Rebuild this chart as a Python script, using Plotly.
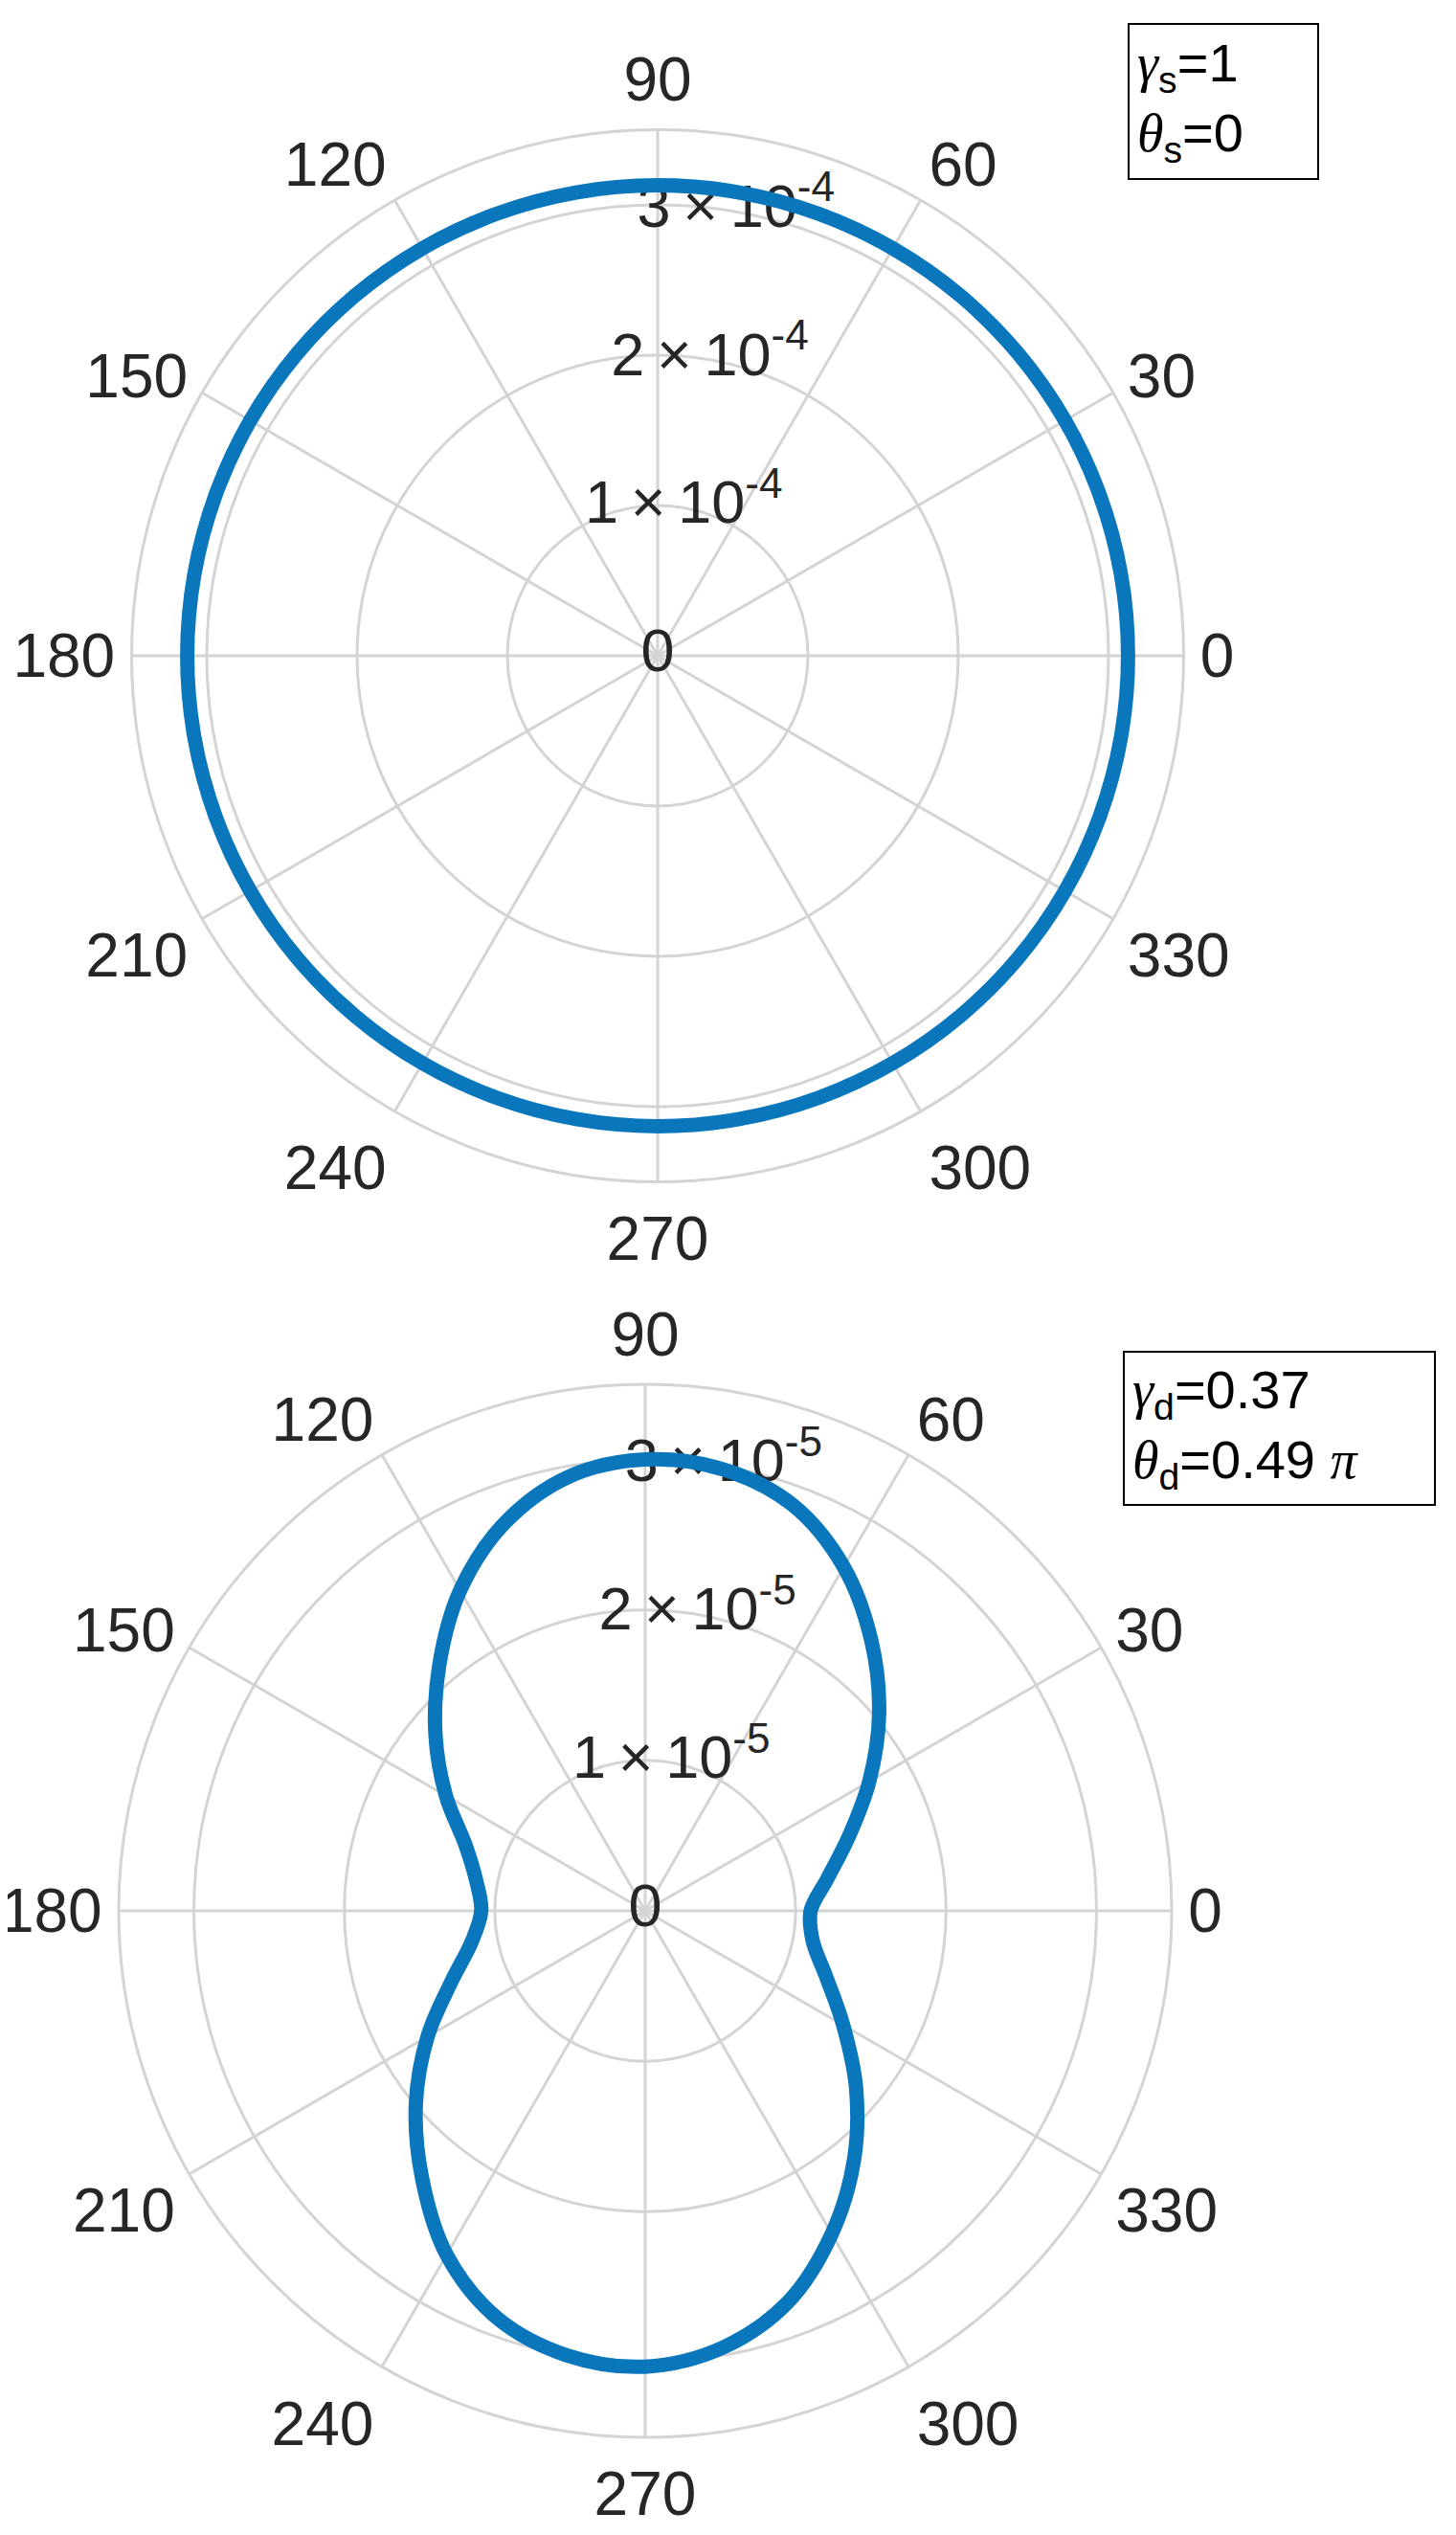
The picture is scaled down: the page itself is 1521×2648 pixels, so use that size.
import plotly.graph_objects as go

# upper pattern (gamma_s = 1, theta_s = 0): radius every 10 deg
theta_s = [0, 10, 20, 30, 40, 50, 60, 70, 80, 90, 100, 110, 120, 130, 140, 150, 160, 170, 180,
           190, 200, 210, 220, 230, 240, 250, 260, 270, 280, 290, 300, 310, 320, 330, 340, 350, 360]
r_s = [3.13e-4, 3.13e-4, 3.13e-4, 3.13e-4, 3.13e-4, 3.13e-4, 3.13e-4, 3.13e-4, 3.13e-4, 3.13e-4,
       3.13e-4, 3.13e-4, 3.13e-4, 3.13e-4, 3.13e-4, 3.13e-4, 3.13e-4, 3.13e-4, 3.13e-4, 3.13e-4,
       3.13e-4, 3.13e-4, 3.13e-4, 3.13e-4, 3.13e-4, 3.13e-4, 3.13e-4, 3.13e-4, 3.13e-4, 3.13e-4,
       3.13e-4, 3.13e-4, 3.13e-4, 3.13e-4, 3.13e-4, 3.13e-4, 3.13e-4]

# lower pattern (gamma_d = 0.37, theta_d = 0.49 pi), every 10 deg
theta_d = [0, 10, 20, 30, 40, 50, 60, 70, 80, 90, 100, 110, 120, 130, 140, 150, 160, 170, 180,
           190, 200, 210, 220, 230, 240, 250, 260, 270, 280, 290, 300, 310, 320, 330, 340, 350, 360]
r_d = [1.10e-5, 1.23e-5, 1.44e-5, 1.72e-5, 2.03e-5, 2.34e-5, 2.64e-5, 2.87e-5, 2.98e-5, 3.00e-5,
       2.93e-5, 2.74e-5, 2.46e-5, 2.13e-5, 1.82e-5, 1.53e-5, 1.27e-5, 1.14e-5, 1.09e-5,
       1.17e-5, 1.37e-5, 1.67e-5, 1.99e-5, 2.31e-5, 2.64e-5, 2.88e-5, 3.00e-5, 3.03e-5,
       2.95e-5, 2.77e-5, 2.48e-5, 2.16e-5, 1.83e-5, 1.52e-5, 1.28e-5, 1.13e-5, 1.10e-5]

# axis ticks
angle_ticks = [0, 30, 60, 90, 120, 150, 180, 210, 240, 270, 300, 330]
angle_labels = ['0', '30', '60', '90', '120', '150', '180', '210', '240', '270', '300', '330']
rticks_s = [0, 1e-4, 2e-4, 3e-4]
rlabels_s = ['0', '1\u2009×\u200910<sup>-4</sup>', '2\u2009×\u200910<sup>-4</sup>', '3\u2009×\u200910<sup>-4</sup>']
rticks_d = [0, 1e-5, 2e-5, 3e-5]
rlabels_d = ['0', '1\u2009×\u200910<sup>-5</sup>', '2\u2009×\u200910<sup>-5</sup>', '3\u2009×\u200910<sup>-5</sup>']
rmax_s = 3.5e-4
rmax_d = 3.5e-5
rlabel_angle = 80

BLUE = '#0a77bd'
GRID = '#d4d4d4'
TXT = '#262626'
FONT = 'Liberation Sans, Arial, sans-serif'

fig = go.Figure()

# radial tick labels first, so the curve sits on top of them
fig.add_trace(go.Scatterpolar(r=rticks_s, theta=[rlabel_angle] * len(rticks_s), mode='text',
                              text=rlabels_s, textposition='middle center',
                              textfont=dict(size=63, color=TXT, family=FONT),
                              subplot='polar', showlegend=False, hoverinfo='skip'))
fig.add_trace(go.Scatterpolar(r=r_s, theta=theta_s, mode='lines',
                              line=dict(color=BLUE, width=15, shape='spline'),
                              subplot='polar', showlegend=False))

fig.add_trace(go.Scatterpolar(r=rticks_d, theta=[rlabel_angle] * len(rticks_d), mode='text',
                              text=rlabels_d, textposition='middle center',
                              textfont=dict(size=63, color=TXT, family=FONT),
                              subplot='polar2', showlegend=False, hoverinfo='skip'))
fig.add_trace(go.Scatterpolar(r=r_d, theta=theta_d, mode='lines',
                              line=dict(color=BLUE, width=15, shape='spline'),
                              subplot='polar2', showlegend=False))


def polar_style(domain_x, domain_y, rmax, rticks):
    return dict(
        domain=dict(x=domain_x, y=domain_y),
        bgcolor='white',
        radialaxis=dict(range=[0, rmax], tickvals=rticks, showticklabels=False, ticks='',
                        showline=False, gridcolor=GRID, gridwidth=3, angle=rlabel_angle),
        angularaxis=dict(rotation=0, direction='counterclockwise', tickvals=angle_ticks,
                         ticktext=angle_labels, ticks='outside', ticklen=3,
                         tickcolor='rgba(0,0,0,0)', showline=True, linecolor=GRID,
                         linewidth=3, gridcolor=GRID, gridwidth=3,
                         tickfont=dict(size=64, color=TXT, family=FONT)),
    )


# the page body keeps its default 8px margin, so the figure is 16px smaller than the window
fig.update_layout(
    width=1505, height=2632,
    margin=dict(l=0, r=0, t=0, b=0),
    paper_bgcolor='white',
    polar=polar_style([0.08605, 0.81628], [0.53400, 0.95156], rmax_s, rticks_s),
    polar2=polar_style([0.07708, 0.80797], [0.03571, 0.45365], rmax_d, rticks_d),
    font=dict(family=FONT, color=TXT),
)

serif = "<span style='font-family:Liberation Serif'><i>%s</i></span>"
fig.add_annotation(xref='paper', yref='paper', x=0.7772, y=0.9938, xanchor='left', yanchor='top',
                   text=serif % 'γ' + '<sub>s</sub>=1<br>' + serif % 'θ' + '<sub>s</sub>=0',
                   showarrow=False, align='left', width=180, height=144,
                   bordercolor='black', borderwidth=2, borderpad=8, bgcolor='white',
                   font=dict(size=56, color='black', family=FONT))
fig.add_annotation(xref='paper', yref='paper', x=0.7741, y=0.4671, xanchor='left', yanchor='top',
                   text=serif % 'γ' + '<sub>d</sub>=0.37<br>' + serif % 'θ' + '<sub>d</sub>=0.49 ' + serif % 'π',
                   showarrow=False, align='left', width=307, height=142,
                   bordercolor='black', borderwidth=2, borderpad=8, bgcolor='white',
                   font=dict(size=56, color='black', family=FONT))

fig.write_html("out.html")
